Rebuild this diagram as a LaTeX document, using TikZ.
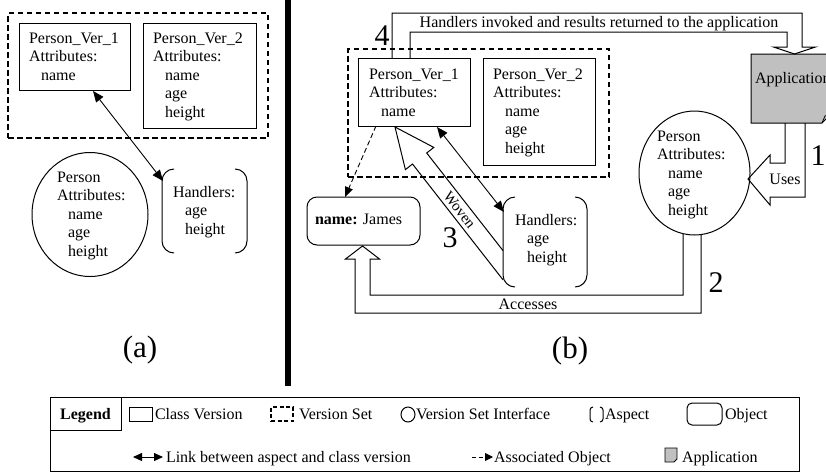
\documentclass[tikz,border=0pt]{standalone}
\usepackage{fontspec}
\setmainfont{Liberation Serif}
\usetikzlibrary{arrows.meta,shapes.geometric}
\newcommand{\txl}[1]{\begin{tabular}[t]{@{}l@{}}#1\end{tabular}}
\definecolor{appgray}{RGB}{192,192,192}
\begin{document}
\begin{tikzpicture}[x=1pt,y=-1pt,
  every node/.style={inner sep=0pt, outer sep=0pt},
  txt/.style={font=\fontsize{16}{18.5}\selectfont, anchor=base west},
  lbl/.style={font=\fontsize{16}{18.5}\selectfont, anchor=base},
  big/.style={font=\fontsize{30}{30}\selectfont, anchor=base},
  cvbox/.style={draw, line width=1pt, anchor=north west},
  vset/.style={draw, line width=1.5pt, dash pattern=on 5.5pt off 3.5pt, anchor=north west},
  vsi/.style={draw, ellipse, line width=1pt},
  aspectline/.style={line width=1pt, rounded corners=#1},
  aspectline/.default=12pt,
  objbox/.style={draw, line width=1pt, anchor=north west},
  link/.style={line width=0.9pt, {Triangle[length=11pt,width=9pt]}-{Triangle[length=11pt,width=9pt]}},
  assoc/.style={line width=0.9pt, dash pattern=on 5pt off 3pt, -{Triangle[length=10pt,width=8pt]}},
  blockarrow/.style={line width=1pt, line join=miter},
]
\useasboundingbox (0,0) rectangle (826,472);
\clip (0,0) rectangle (826,472);

% ---------------- panel (a) ----------------
\node[vset, minimum width=260, minimum height=125] (aset) at (8,13) {};
\node[cvbox, minimum width=111, minimum height=67] (av1) at (19,23) {};
\node[cvbox, minimum width=113, minimum height=105] (av2) at (143,23) {};
\node[txt] (av1t) at (29,43) {\txl{Person\_Ver\_1\\Attributes:\\\hspace*{12pt}name}};
\node[txt] (av2t) at (153,43) {\txl{Person\_Ver\_2\\Attributes:\\\hspace*{12pt}name\\\hspace*{12pt}age\\\hspace*{12pt}height}};
\node[vsi, minimum width=116, minimum height=124] (aperson) at (90,214.5) {};
\node[txt] (apt) at (57,182) {\txl{Person\\Attributes:\\\hspace*{11pt}name\\\hspace*{11pt}age\\\hspace*{11pt}height}};
\node[minimum width=85, minimum height=84, anchor=north west] (ah) at (162,169) {};
\draw[aspectline] ([xshift=12pt]ah.north west) -- (ah.north west) -- (ah.south west) -- ([xshift=12pt]ah.south west);
\draw[aspectline] ([xshift=-12pt]ah.north east) -- (ah.north east) -- (ah.south east) -- ([xshift=-12pt]ah.south east);
\node[txt] (aht) at (173,197) {\txl{Handlers:\\\hspace*{12pt}age\\\hspace*{12pt}height}};
\draw[link] ([xshift=18.5pt,yshift=-1pt]av1.south) -- ([xshift=1pt,yshift=-12pt]ah.north west);
\node[big, font=\fontsize{31}{31}\selectfont] (la) at (140,357) {(a)};

% separator bar
\fill (285,0) rectangle (291,386);

% ---------------- panel (b) ----------------
\node[vset, minimum width=261, minimum height=128] (bset) at (348,49) {};
\node[cvbox, minimum width=112, minimum height=68] (bv1) at (358,58) {};
\node[cvbox, minimum width=112, minimum height=107] (bv2) at (483,58) {};
\node[txt] (bv1t) at (369,79) {\txl{Person\_Ver\_1\\Attributes:\\\hspace*{12pt}name}};
\node[txt] (bv2t) at (493,79) {\txl{Person\_Ver\_2\\Attributes:\\\hspace*{12pt}name\\\hspace*{12pt}age\\\hspace*{12pt}height}};

\node[vsi, minimum width=111, minimum height=124] (bperson) at (694.5,173) {};
\node[txt] (bpt) at (657,141) {\txl{Person\\Attributes:\\\hspace*{11pt}name\\\hspace*{11pt}age\\\hspace*{11pt}height}};

\node[objbox, rounded corners=10pt, minimum width=113, minimum height=48] (james) at (307,197) {};
\node[txt] (jamest) at (315,224) {\textbf{name:} James};

\node[minimum width=84, minimum height=90, anchor=north west] (bh) at (503,197) {};
\draw[aspectline] ([xshift=12pt]bh.north west) -- (bh.north west) -- (bh.south west) -- ([xshift=12pt]bh.south west);
\draw[aspectline] ([xshift=-12pt]bh.north east) -- (bh.north east) -- (bh.south east) -- ([xshift=-12pt]bh.south east);
\node[txt] (bht) at (515,225) {\txl{Handlers:\\\hspace*{12pt}age\\\hspace*{12pt}height}};

% application
\node[minimum width=81, minimum height=69, anchor=north west] (app) at (751,54) {};
\filldraw[fill=appgray, line width=1pt] (app.north west) -- (app.north east) -- ([yshift=10pt]app.south east) -- ([xshift=-10pt]app.south east) -- (app.south west) -- cycle;
\draw[line width=0.8pt] ([xshift=-10pt]app.south east) -- ([xshift=-7pt,yshift=7pt]app.south east) -- ([yshift=10pt]app.south east);
\node[txt] (appt) at (755,83) {Application};

% connectors
\draw[assoc] ([xshift=-38pt]bv1.south) -- ([xshift=38pt]james.north west);
\draw[link] ([xshift=23pt,yshift=-1pt]bv1.south) -- ([xshift=1pt,yshift=-15pt]bh.north west);

% Woven block arrow
\draw[blockarrow] (503,250.6) -- (426.7,153.0) -- (433.8,147.4) -- (395,127) -- (405.4,169.6) -- (412.5,164.0) -- (503,279.8);
\node[font=\fontsize{15}{15}\selectfont, rotate=-52] (woven) at (459.6,209.7) {Woven};

% Handlers invoked block arrow
\draw[blockarrow] (392,58) -- (392,13) -- (802,13) -- (802,47) -- (815.5,47) -- (794.5,54) -- (773.5,47) -- (787,47) -- (787,32) -- (410,32) -- (410,58);
\node[lbl] (hit) at (599,27.5) {Handlers invoked and results returned to the application};

% Uses block arrow
\draw[blockarrow] (785,123) -- (785,163) -- (770,163) -- (770,155) -- (748,179) -- (770,205) -- (770,197) -- (805,197) -- (805,123);
\node[lbl] (uses) at (785,184) {Uses};

% Accesses block arrow
\draw[blockarrow] (683,234) -- (683,295) -- (370,295) -- (370,259) -- (379.5,259) -- (362.5,246) -- (345.5,259) -- (355,259) -- (355,313) -- (701,313) -- (701,234);
\node[lbl] (acc) at (528,309.5) {Accesses};

% step numbers
\node[big] (n4) at (382,45) {4};
\node[big] (n3) at (450,247) {3};
\node[big] (n1) at (818,165) {1};
\node[big] (n2) at (716,292) {2};
\node[big, font=\fontsize{31}{31}\selectfont] (lb) at (570,358) {(b)};

% ---------------- legend ----------------
\node[draw, line width=1pt, minimum width=749, minimum height=74, anchor=north west] (legend) at (50,397) {};
\node[draw, line width=1pt, minimum width=71, minimum height=33, anchor=north west] (legendlbl) at (50,397) {};
\node[lbl, font=\fontsize{16}{18.5}\selectfont\bfseries] (legendt) at (85.5,419) {Legend};

\node[cvbox, minimum width=23, minimum height=14] (lgcv) at (129,407) {};
\node[txt] (lgcvt) at (155,419) {Class Version};
\node[vset, line width=1.2pt, dash pattern=on 4pt off 2.5pt, minimum width=22, minimum height=14] (lgvs) at (271,407) {};
\node[txt] (lgvst) at (299,419) {Version Set};
\node[vsi, minimum width=14, minimum height=15] (lgvsi) at (408,414.5) {};
\node[txt] (lgvsit) at (416,419) {Version Set Interface};
\node[minimum width=13, minimum height=15, anchor=north west] (lgasp) at (590,407) {};
\draw[aspectline=3pt] ([xshift=3pt]lgasp.north west) -- (lgasp.north west) -- (lgasp.south west) -- ([xshift=3pt]lgasp.south west);
\draw[aspectline=3pt] ([xshift=-3pt]lgasp.north east) -- (lgasp.north east) -- (lgasp.south east) -- ([xshift=-3pt]lgasp.south east);
\node[txt] (lgaspt) at (605,419) {Aspect};
\node[objbox, rounded corners=5pt, minimum width=35, minimum height=22] (lgobj) at (687,403) {};
\node[txt] (lgobjt) at (725,419) {Object};

\coordinate (lgl1) at (133,457);
\coordinate (lgl2) at (163,457);
\draw[link, {Triangle[length=9pt,width=8pt]}-{Triangle[length=9pt,width=8pt]}] (lgl1) -- (lgl2);
\node[txt] (lglt) at (166,462) {Link between aspect and class version};
\coordinate (lga1) at (472,457);
\coordinate (lga2) at (493,457);
\draw[assoc, dash pattern=on 4pt off 2.5pt, -{Triangle[length=8pt,width=8pt]}] (lga1) -- (lga2);
\node[txt] (lgat) at (494,462) {Associated Object};
\node[minimum width=12, minimum height=14, anchor=north west] (lgapp) at (665,448) {};
\filldraw[fill=appgray, line width=0.9pt] (lgapp.north west) -- (lgapp.north east) -- ([yshift=3pt]lgapp.south east) -- ([xshift=-3pt]lgapp.south east) -- (lgapp.south west) -- cycle;
\node[txt] (lgappt) at (682,462) {Application};
\end{tikzpicture}
\end{document}
